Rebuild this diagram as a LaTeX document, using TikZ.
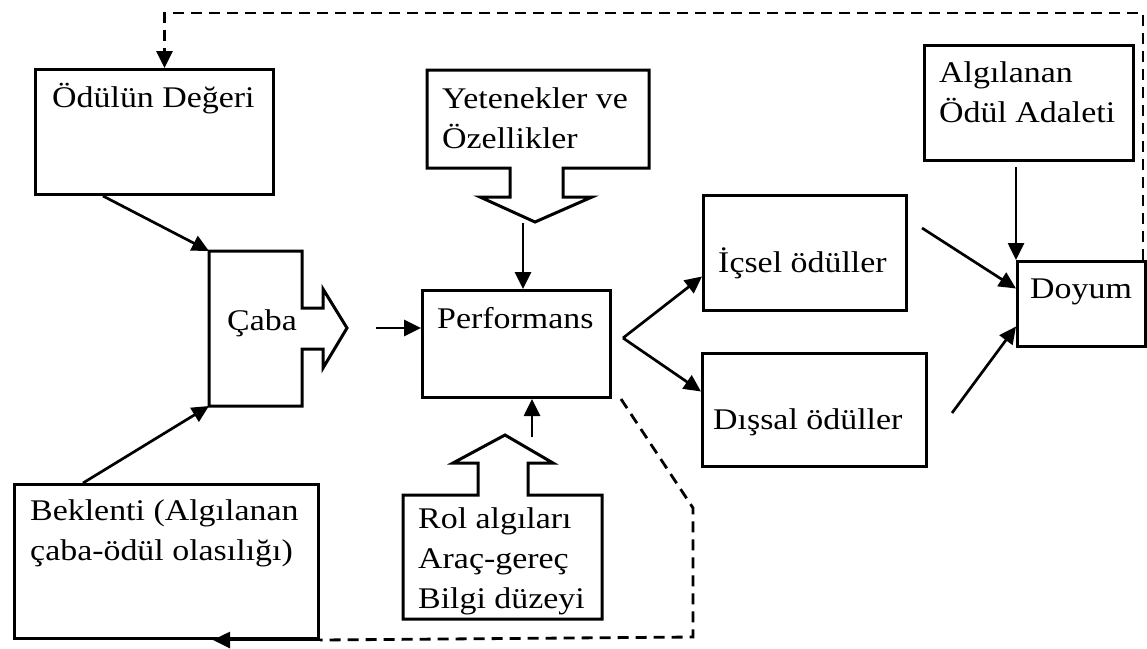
\documentclass[tikz,border=0pt]{standalone}
\usepackage{fontspec}
\setmainfont{Liberation Serif}[FakeStretch=1.13]
\usetikzlibrary{arrows.meta,calc}
% stacked lines whose reference point is the first baseline
\newcommand{\stacklines}[1]{\begin{tabular}[t]{@{}l@{}}#1\end{tabular}}

\begin{document}
\begin{tikzpicture}[x=1pt,y=-1pt,
  shapeline/.style={draw=black,line width=3pt,line join=miter,fill=white},
  box/.style={shapeline,rectangle,inner sep=0pt,anchor=north west},
  txt/.style={inner sep=0pt,anchor=base west,font=\fontsize{30pt}{40pt}\selectfont},
  tip/.style={-{Triangle[length=17pt,width=16pt]}},
  link/.style={line width=2.7pt,tip},
  feedback/.style={line width=2.8pt,dash pattern=on 11pt off 7pt},
]
\fill[white] (0,0) rectangle (1147,648);
\useasboundingbox (0,0) rectangle (1147,648);

% rectangular boxes
\node[box,minimum width=238pt,minimum height=125pt] (odul)   at (34,68)   {};
\node[box,minimum width=304pt,minimum height=154pt] (bek)    at (13,483)  {};
\node[box,minimum width=188pt,minimum height=107pt] (perf)   at (421,289) {};
\node[box,minimum width=203pt,minimum height=115pt] (icsel)  at (702,194) {};
\node[box,minimum width=224pt,minimum height=113pt] (dissal) at (701,352) {};
\node[box,minimum width=209pt,minimum height=115pt] (adalet) at (923,44)  {};
\node[box,minimum width=128pt,minimum height=85pt]  (doyum)  at (1016,260) {};

% box with a block arrow pointing right (effort)
\draw[shapeline] (209,251) coordinate (cabaTL) -- (302,251) -- (302,308)
  -- (323,308) -- (323,289) -- (347,328) -- (323,368) -- (323,349)
  -- (302,349) -- (302,406) -- (209,406) coordinate (cabaBL) -- cycle;

% box with a block arrow pointing down (abilities)
\draw[shapeline] (427,70) -- (649,70) -- (649,168) -- (563,168) -- (563,197)
  -- (592,197) -- (535,222) -- (480,197) -- (510,197) -- (510,168)
  -- (427,168) -- cycle;

% box with a block arrow pointing up (role perceptions)
\draw[shapeline] (403,495) -- (478,495) -- (478,463) -- (453,463) -- (505,435)
  -- (553,463) -- (528,463) -- (528,495) -- (602,495) -- (602,619)
  -- (403,619) -- cycle;

% texts
\node[txt] (odulT)   at (52,107)  {Ödülün Değeri};
\node[txt] (cabaT)   at (227,330) {Çaba};
\node[txt] (bekT)    at (30,520)  {\stacklines{Beklenti (Algılanan\\çaba-ödül olasılığı)}};
\node[txt] (perfT)   at (437,328) {Performans};
\node[txt] (yetT)    at (442,108) {\stacklines{Yetenekler ve\\Özellikler}};
\node[txt] (rolT)    at (418,528) {\stacklines{Rol algıları\\Araç-gereç\\Bilgi düzeyi}};
\node[txt] (icselT)  at (718,272) {İçsel ödüller};
\node[txt] (dissalT) at (713,429) {Dışsal ödüller};
\node[txt] (adaletT) at (939,82)  {\stacklines{Algılanan\\Ödül Adaleti}};
\node[txt] (doyumT)  at (1030,298) {Doyum};

% free ends of connectors
\coordinate (cabaOut)   at (376,328);
\coordinate (yetOut)    at (523,223);
\coordinate (rolOut)    at (532,437);
\coordinate (branch)    at (623,338);
\coordinate (icselOut)  at (922,228);
\coordinate (dissalOut) at (952,413);
\coordinate (adaletOut) at (1016,167);

% solid connectors
\draw[link] ([xshift=69pt]odul.south west) -- (cabaTL);
\draw[link] ([xshift=70pt]bek.north west) -- (cabaBL);
\draw[link] (cabaOut) -- (perf.west |- cabaOut);
\draw[link] (yetOut) -- (yetOut |- perf.north);
\draw[link] (rolOut) -- (rolOut |- perf.south);
\draw[link] (branch) -- ([yshift=-23.5pt]icsel.west);
\draw[link] (branch) -- ([yshift=18.5pt]dissal.west);
\draw[link] (icselOut) -- ([yshift=15.5pt]doyum.west);
\draw[link] (dissalOut) -- ([yshift=-22.5pt]doyum.west);
\draw[link] (adaletOut) -- (doyum.north west);

% dashed feedback loops
\draw[feedback,tip] ([xshift=-4pt]doyum.north east) -- ++(0,-247)
  -| ([xshift=10pt]odul.north);
\draw[feedback] ([xshift=9pt]perf.south east) -- (693,508) -- (693,637)
  -- (bek.south east);
\draw[link] (bek.south east) -- ([xshift=-107pt]bek.south east);
\end{tikzpicture}
\end{document}
